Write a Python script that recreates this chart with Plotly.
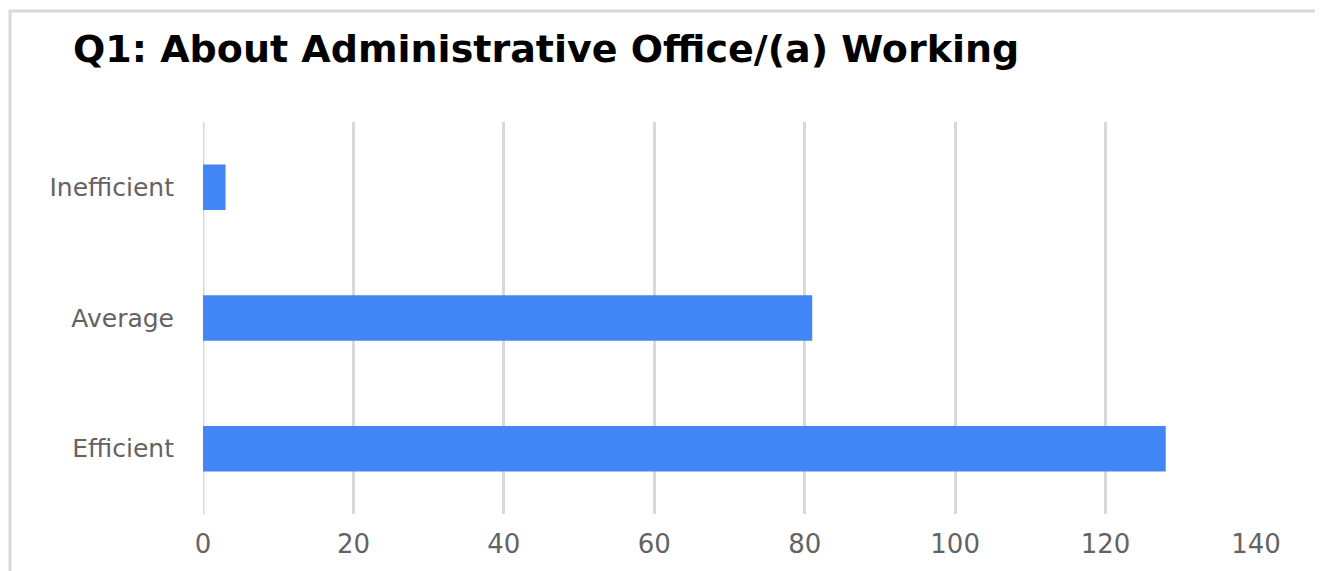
import plotly.graph_objects as go

categories = ["Inefficient", "Average", "Efficient"]
values = [3, 81, 128]
x_ticks = [0, 20, 40, 60, 80, 100, 120, 140]
title_text = "Q1: About Administrative Office/(a) Working"

# page body has an 8px default margin: work in reference px minus 8
OFF = 8
W, H = 1323 - OFF, 571 - OFF
ml = 203 - OFF
mt = 122 - OFF
pw = 1256 - 203
ph = 519 - 122
mr = W - ml - pw
mb = H - mt - ph

fig = go.Figure(go.Bar(
    y=categories, x=values, orientation="h",
    marker=dict(color="#4285F4", line=dict(width=0)),
))

def px_to_paper_x(px):
    return (px - OFF - ml) / pw

def px_to_paper_y(py):
    return (H - mb - (py - OFF)) / ph

fig.add_shape(type="rect", xref="paper", yref="paper",
              x0=px_to_paper_x(10), x1=px_to_paper_x(1320),
              y0=px_to_paper_y(620), y1=px_to_paper_y(9.5),
              line=dict(color="#d9d9d9", width=3), fillcolor="rgba(0,0,0,0)", layer="below")

fig.update_layout(
    width=W, height=H,
    margin=dict(l=ml, r=mr, t=mt, b=mb),
    paper_bgcolor="white", plot_bgcolor="white",
    bargap=0.652,
    showlegend=False,
    font=dict(family="DejaVu Sans", color="#666666"),
    title=dict(text=title_text, x=(73 - OFF) / W, xanchor="left", xref="container",
               y=1 - (49 - OFF) / H, yanchor="middle", yref="container",
               font=dict(family="DejaVu Sans", size=38, color="#000000", weight="bold")),
    xaxis=dict(range=[0, 140], tickvals=x_ticks, showgrid=True, gridcolor="#d9d9d9",
               gridwidth=3, zeroline=False, showline=False, ticks="",
               tickfont=dict(size=26, color="#636363"), ticklabelstandoff=12,
               fixedrange=True),
    yaxis=dict(categoryorder="array", categoryarray=categories[::-1], showgrid=False,
               zeroline=False, showline=False, ticks="",
               tickfont=dict(size=25, color="#636363"), ticklabelstandoff=28,
               fixedrange=True),
)
fig.add_vline(x=0, line=dict(color="#d9d9d9", width=3), layer="below")

fig.write_html("out.html")
